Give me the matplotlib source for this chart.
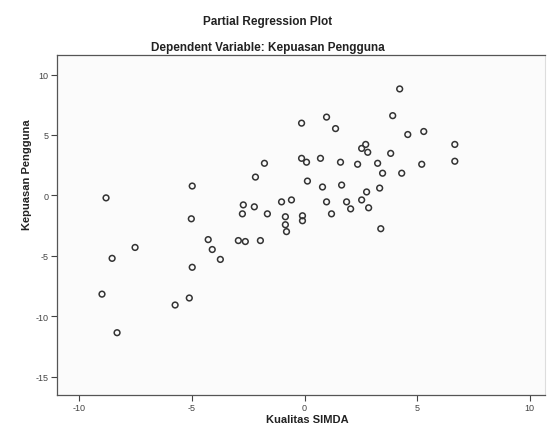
import matplotlib.pyplot as plt

# ------------------------------------------------------------
# DATA
# ------------------------------------------------------------

kualitas_simda = [
    4.23, 3.92, -0.13, 0.98, 1.38, 4.59, 5.30, 6.68, 2.54, 2.72,
    2.81, 3.83, -0.13, 0.09, 0.71, 1.60, 2.36, 3.25, 5.21, 6.68,
    -1.78, -2.18, 0.13, 3.47, 4.32, -4.99, 0.80, 1.65, 3.34, 2.76,
    2.54, -8.82, -1.02, -0.58, 0.98, 1.87, 2.05, 2.85, -2.72, -2.23,
    -2.76, -1.65, -0.85, -0.85, -0.80, -0.09, -0.09, 1.20, -5.03, 3.39,
    -4.28, -4.10, -3.74, -2.94, -2.63, -1.96, -7.53, -8.55, -4.99, -9.00,
    -5.12, -5.75, -8.33,
]

kepuasan_pengguna = [
    8.81, 6.60, 5.98, 6.48, 5.53, 5.04, 5.29, 4.22, 3.89, 4.22,
    3.57, 3.48, 3.07, 2.75, 3.07, 2.75, 2.58, 2.66, 2.58, 2.83,
    2.66, 1.52, 1.19, 1.84, 1.84, 0.78, 0.70, 0.86, 0.61, 0.29,
    -0.37, -0.20, -0.53, -0.37, -0.53, -0.53, -1.11, -1.02, -0.78, -0.94,
    -1.52, -1.52, -1.76, -2.42, -2.99, -1.68, -2.09, -1.52, -1.93, -2.75,
    -3.65, -4.47, -5.29, -3.73, -3.81, -3.73, -4.30, -5.20, -5.94, -8.16,
    -8.48, -9.06, -11.35,
]

x_ticks = [-10, -5, 0, 5, 10]
y_ticks = [10, 5, 0, -5, -10, -15]

plt.rcParams["font.family"] = ["Liberation Sans", "DejaVu Sans"]

# ------------------------------------------------------------
# PLOT
# ------------------------------------------------------------

fig = plt.figure(figsize=(5.48, 4.39), dpi=100)
fig.patch.set_facecolor("white")
ax = fig.add_axes([0.104, 0.098, 0.891, 0.774])
ax.set_facecolor("#fbfbfb")

ax.scatter(
    kualitas_simda,
    kepuasan_pengguna,
    s=17,
    facecolors="none",
    edgecolors="#333333",
    linewidths=1.1,
)

ax.set_xlim(-11.0, 10.7)
ax.set_ylim(-16.5, 11.6)
ax.set_xticks(x_ticks)
ax.set_yticks(y_ticks)
ax.set_xticklabels([str(t) for t in x_ticks])
ax.set_yticklabels([str(t) for t in y_ticks])

ax.tick_params(direction="out", length=4, width=0.8, colors="#444444",
               labelsize=6.5, pad=2)

for side in ["top", "bottom", "left"]:
    ax.spines[side].set_color("#555555")
    ax.spines[side].set_linewidth(0.9)
ax.spines["right"].set_color("#dddddd")

fig.text(0.489, 0.950, "Partial Regression Plot", ha="center", va="center",
         fontsize=8.5, fontweight="bold", color="#222222")
fig.text(0.489, 0.890, "Dependent Variable: Kepuasan Pengguna", ha="center",
         va="center", fontsize=8.5, fontweight="bold", color="#222222")
fig.text(0.560, 0.043, "Kualitas SIMDA", ha="center", va="center",
         fontsize=8, fontweight="bold", color="#222222")
fig.text(0.050, 0.601, "Kepuasan Pengguna", ha="center", va="center",
         rotation=90, fontsize=8, fontweight="bold", color="#222222")

fig.savefig("out.png", dpi=100)
